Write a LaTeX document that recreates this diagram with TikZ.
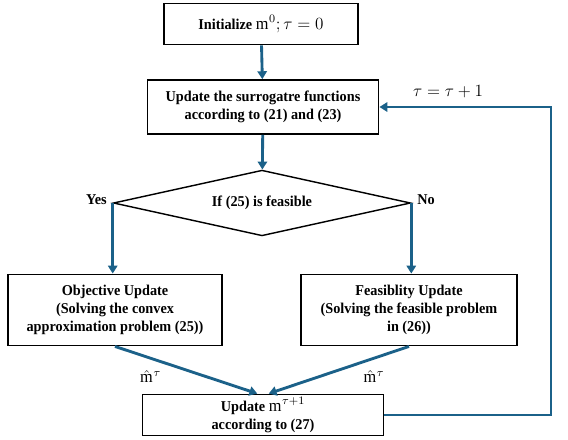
\documentclass[tikz,border=0pt]{standalone}
\usepackage{fontspec}
\setmainfont{Liberation Serif}[FakeStretch=0.95]
\usetikzlibrary{arrows.meta,shapes.geometric}
\definecolor{flowblue}{HTML}{1B6189}
\newcommand{\flowmath}[1]{{\large$#1$}}
\tikzset{
  stepbox/.style={draw=black, line width=1pt, fill=white, align=center,
                  font=\fontsize{10.5}{12.6}\selectfont\bfseries, inner sep=2pt},
  decide/.style={diamond, draw=black, line width=1pt, aspect=4.5, inner sep=0pt,
                 minimum width=208pt, minimum height=46pt,
                 font=\fontsize{10.5}{12.6}\selectfont\bfseries},
  arr/.style={-{Triangle[length=5.5pt, width=6.5pt]}, line width=2pt, color=flowblue},
  lbl/.style={font=\fontsize{10.5}{12.6}\selectfont\bfseries, text=black}}

\begin{document}
\begin{tikzpicture}[x=0.7pt, y=-0.7pt]
  \useasboundingbox (0,0) rectangle (568,439);
  \node[stepbox, minimum width=136pt, minimum height=29pt] (init) at (261,24)
    {Initialize \flowmath{\mathrm{m}^{0}; \tau=0}};
  \node[stepbox, minimum width=162pt, minimum height=38pt] (surr) at (263,107)
    {Update the surrogatre functions\\ according to (21) and (23)};
  \node[decide] (test) at (262,203) {If (25) is feasible};
  \node[stepbox, minimum width=150pt, minimum height=50pt] (obj) at (115,310)
    {Objective Update\\ (Solving the convex\\ approximation problem (25))};
  \node[stepbox, minimum width=151pt, minimum height=50pt] (feas) at (409,310)
    {Feasiblity Update\\ (Solving the feasible problem\\ in (26))};
  \node[stepbox, minimum width=169pt, minimum height=29pt] (upd) at (263,415)
    {Update \flowmath{\mathrm{m}^{\tau+1}}\\ according to (27)};
  \node[lbl, anchor=east, inner sep=1pt] (yes) at ([xshift=-3pt, yshift=2pt]test.west) {Yes};
  \node[lbl, anchor=west, inner sep=1pt] (no) at ([xshift=3pt, yshift=2pt]test.east) {No};
  \coordinate (loop) at (551,107);
  % main flow
  \draw[arr] (init) -- (surr);
  \draw[arr] (surr) -- (test);
  \draw[arr] (test.west) -- (test.west |- obj.north);
  \draw[arr] (test.east) -- (test.east |- feas.north);
  \draw[arr] (obj.south) -- ([xshift=-4pt]upd.north)
    node[pos=0.25, below=4pt, text=black] {\flowmath{\hat{\mathrm{m}}^{\tau}}};
  \draw[arr] (feas.south) -- ([xshift=4pt]upd.north)
    node[pos=0.25, below=4pt, text=black] {\flowmath{\hat{\mathrm{m}}^{\tau}}};
  % back to the surrogate step
  \draw[arr, line width=1.6pt] (upd.east) -| (loop) -- (surr.east)
    node[pos=0.6, above=2pt, text=black] {\flowmath{\tau=\tau+1}};
\end{tikzpicture}
\end{document}
